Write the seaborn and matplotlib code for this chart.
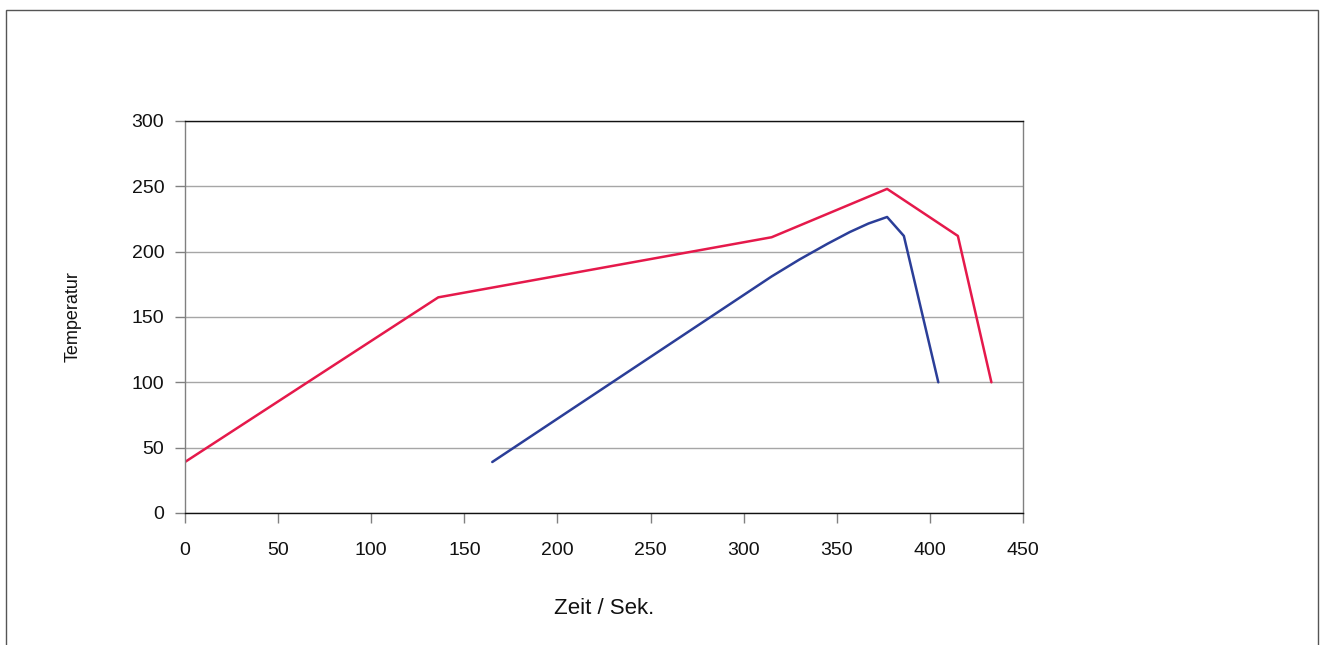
import pandas as pd
import matplotlib.pyplot as plt
import seaborn as sns
from matplotlib.patches import Rectangle

# Kurve 1 (rot)
red_time = [0, 136, 315, 377, 415, 433]
red_temp = [39, 165, 211, 248, 212, 100]

# Kurve 2 (blau)
blue_time = [165, 315, 330, 345, 357, 367, 374, 377, 386, 404.5]
blue_temp = [39, 181, 194, 206, 215, 221.5, 225, 226.5, 212, 100]

x_ticks = [0, 50, 100, 150, 200, 250, 300, 350, 400, 450]
y_ticks = [0, 50, 100, 150, 200, 250, 300]

df = pd.concat([
    pd.DataFrame({'Zeit': red_time, 'Temperatur': red_temp, 'Kurve': 'rot'}),
    pd.DataFrame({'Zeit': blue_time, 'Temperatur': blue_temp, 'Kurve': 'blau'}),
])

sns.set_style('white')
plt.rcParams['font.family'] = ['Liberation Sans', 'DejaVu Sans']

fig = plt.figure(figsize=(13.24, 6.45), dpi=100)
ax = fig.add_axes([0.1397, 0.2047, 0.633, 0.6078])

sns.lineplot(data=df, x='Zeit', y='Temperatur', hue='Kurve', sort=False,
             palette={'rot': '#E5194B', 'blau': '#2B3E98'}, linewidth=1.8,
             legend=False, ax=ax)

ax.set_xlim(0, 450)
ax.set_ylim(0, 300)
ax.set_xticks(x_ticks)
ax.set_yticks(y_ticks)
ax.yaxis.grid(True, color='#a6a6a6', linewidth=1)
ax.set_axisbelow(True)
ax.tick_params(axis='both', bottom=True, left=True, direction='out', length=7,
               width=1, colors='#808080', labelcolor='#111111', labelsize=14)
ax.tick_params(axis='x', pad=14)
ax.tick_params(axis='y', pad=8)

for side in ['left', 'right']:
    ax.spines[side].set_color('#808080')
for side in ['top', 'bottom']:
    ax.spines[side].set_color('#111111')
for s in ax.spines.values():
    s.set_linewidth(1)

ax.set_xlabel('Zeit / Sek.', fontsize=16, labelpad=28, color='#111111')
ax.set_ylabel('Temperatur', fontsize=13, labelpad=36, color='#111111')

# Rahmen um die Grafik
fig.patches.append(Rectangle((6 / 1324, -0.05), 1312 / 1324, 1.05 - 10 / 645,
                             transform=fig.transFigure, fill=False,
                             edgecolor='#555555', linewidth=1))

fig.savefig('out.png', dpi=100)
